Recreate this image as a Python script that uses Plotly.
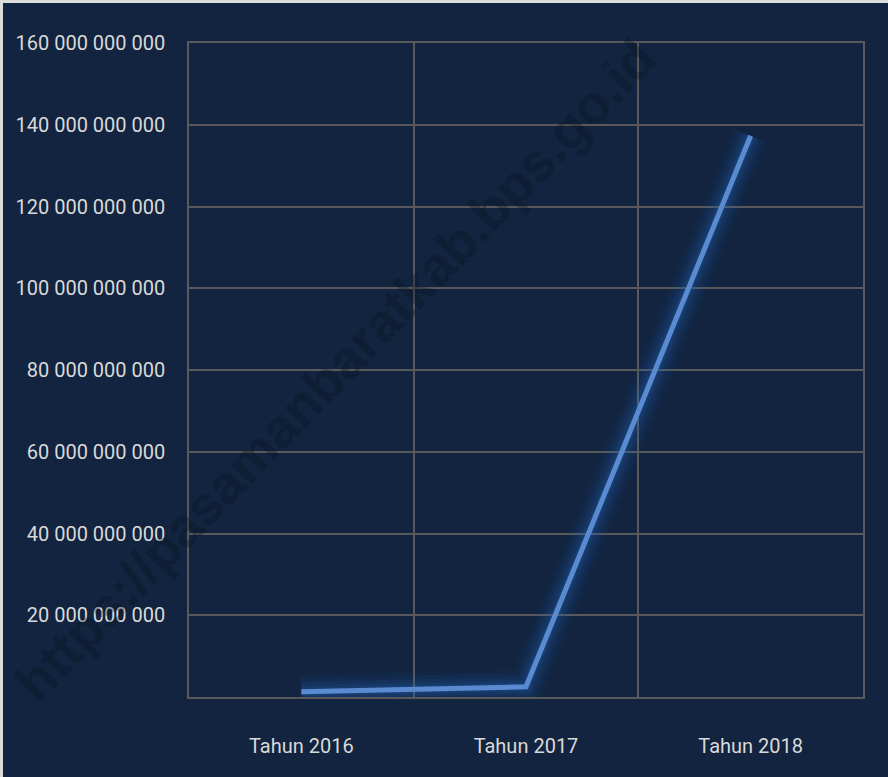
import plotly.graph_objects as go

categories = ["Tahun 2016", "Tahun 2017", "Tahun 2018"]
values = [1.3e9, 2.5e9, 137.3e9]
tick_values = [20e9, 40e9, 60e9, 80e9, 100e9, 120e9, 140e9, 160e9]
tick_labels = ["20 000 000 000", "40 000 000 000", "60 000 000 000", "80 000 000 000",
               "100 000 000 000", "120 000 000 000", "140 000 000 000", "160 000 000 000"]
watermark = "https://pasamanbaratkab.bps.go.id"

BG = "#12243f"
GRID = "#595959"
LABEL = "#d9d9d9"
FONT = "Roboto, Arial, sans-serif"

fig = go.Figure()
# soft glow layers
for w, a in [(36, 0.06), (28, 0.08), (20, 0.09), (14, 0.11), (9, 0.13)]:
    fig.add_trace(go.Scatter(x=categories, y=values, mode="lines",
                             line=dict(color=f"rgba(40,105,195,{a})", width=w),
                             hoverinfo="skip", showlegend=False))
fig.add_trace(go.Scatter(x=categories, y=values, mode="lines",
                         line=dict(color="#5a8bd0", width=5),
                         showlegend=False))

W, H = 888, 777
L, R, T, B = 189, 25, 43, 80
pw, ph = W - L - R, H - T - B

def px_x(p):
    return (p - L) / pw

def px_y(p):
    return (H - B - p) / ph

fig.update_layout(
    width=W, height=H,
    margin=dict(l=L, r=R, t=T, b=B),
    paper_bgcolor=BG, plot_bgcolor=BG,
    font=dict(family=FONT, color=LABEL, size=20),
    xaxis=dict(type="category", range=[-0.5, 2.5], tickson="boundaries",
               showgrid=True, gridcolor=GRID, gridwidth=1.5,
               showline=True, linecolor=GRID, linewidth=1.5, mirror=True,
               ticks="", ticklabelstandoff=30, tickfont=dict(size=20, color=LABEL),
               fixedrange=True),
    yaxis=dict(range=[0, 160e9], tickvals=tick_values, ticktext=tick_labels,
               showgrid=True, gridcolor=GRID, gridwidth=1.5, zeroline=False,
               showline=True, linecolor=GRID, linewidth=1.5, mirror=True,
               ticks="", ticklabelstandoff=18, tickfont=dict(size=20, color=LABEL),
               fixedrange=True),
    annotations=[dict(text=watermark, xref="paper", yref="paper",
                      x=px_x(335), y=px_y(370), xanchor="center", yanchor="middle",
                      showarrow=False, textangle=-46,
                      font=dict(family="Liberation Sans, Arial, sans-serif", size=54,
                                color="rgba(8,16,30,0.30)", weight="bold"))],
    shapes=[
        dict(type="rect", xref="paper", yref="paper", layer="above",
             x0=px_x(0), x1=px_x(W), y0=px_y(0), y1=px_y(3),
             fillcolor="#dcdcdc", line=dict(width=0)),
        dict(type="rect", xref="paper", yref="paper", layer="above",
             x0=px_x(0), x1=px_x(3), y0=px_y(0), y1=px_y(H),
             fillcolor="#dcdcdc", line=dict(width=0)),
    ],
)

fig.write_html("out.html", config={"displayModeBar": False},
               post_script="document.body.style.margin='0';document.body.style.overflow='hidden';")
